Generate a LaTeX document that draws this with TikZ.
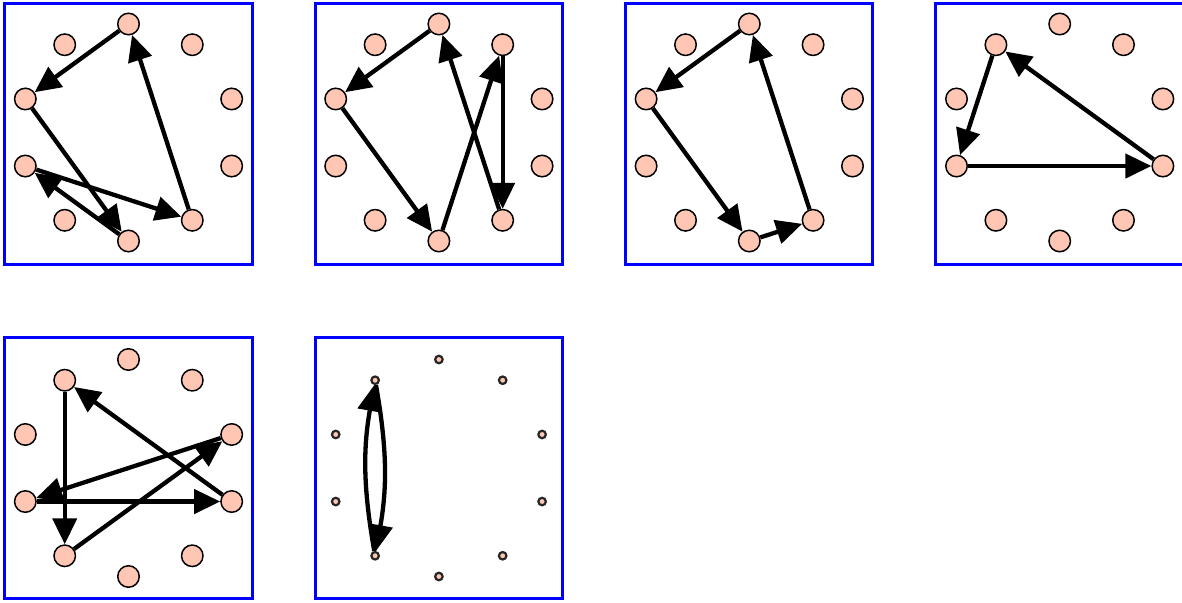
\documentclass[tikz,border=0pt]{standalone}
\usetikzlibrary{arrows.meta}
\definecolor{nodefill}{RGB}{255,198,180}
\definecolor{boxblue}{RGB}{0,0,255}
\tikzset{
  vert/.style={circle, draw=black, line width=1.5pt, fill=nodefill, minimum size=21.5pt, inner sep=0pt},
  tinyvert/.style={circle, draw=black!85, line width=2.2pt, fill=nodefill, minimum size=7.5pt, inner sep=0pt},
  panelbox/.style={draw=boxblue, line width=3pt},
  edge/.style={draw=black, line width=4.3pt, -{Triangle[length=26pt,width=24pt]}},
}
\begin{document}
\begin{tikzpicture}[x=1pt,y=-1pt]
\useasboundingbox (0,0) rectangle (1182,602);
\foreach \p/\cx/\cy/\bx/\by/\st in {
  1/128.5/132.5/4.7/3.7/vert,
  2/438.9/132.5/315.1/3.7/vert,
  3/749.3/132.5/625.5/3.7/vert,
  4/1059.7/132.5/935.9/3.7/vert,
  5/128.5/468/4.7/337.7/vert,
  6/438.9/468/315.1/337.7/tinyvert} {
  \draw[panelbox] (\bx,\by) rectangle ++(247.3,260.8);
  \foreach \i in {0,...,9} {
    \node[\st] (n\p\i) at ({\cx+108.5*cos(90+36*\i)},{\cy-108.5*sin(90+36*\i)}) {};
  }
}
\foreach \a/\b in {10/12, 12/15, 15/13, 13/16, 16/10,
                   20/22, 22/25, 25/29, 29/26, 26/20,
                   30/32, 32/35, 35/36, 36/30,
                   41/43, 43/47, 47/41,
                   51/54, 54/58, 58/53, 53/57, 57/51}
  \draw[edge] (n\a) -- (n\b);
\draw[edge] (n61) to[bend left=10] (n64);
\draw[edge] (n64) to[bend left=10] (n61);
\end{tikzpicture}
\end{document}
